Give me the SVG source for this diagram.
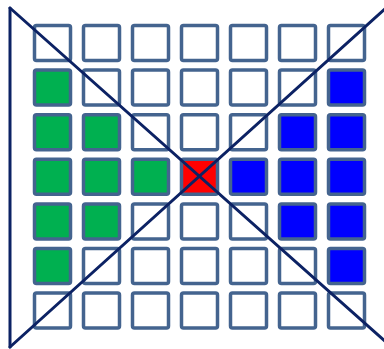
<svg xmlns="http://www.w3.org/2000/svg" width="384" height="349" viewBox="0 0 384 349">
<style>
.c{stroke:#44648F;stroke-width:3.5;fill:#FFFFFF}
.g{fill:#00B050}
.b{fill:#0000FF}
.r{fill:#FF0000}
.ln{stroke:#0C2264;stroke-width:3;fill:none;stroke-linecap:round}
</style>
<defs>
<rect id="sq" width="36" height="35" rx="2"/>
</defs>
<rect width="384" height="349" fill="#FFFFFF"/>
<g id="grid">
<g id="row0">
<use href="#sq" class="c" x="34.5" y="25.5"/><use href="#sq" class="c" x="83.5" y="25.5"/><use href="#sq" class="c" x="132.5" y="25.5"/><use href="#sq" class="c" x="181.5" y="25.5"/><use href="#sq" class="c" x="230.5" y="25.5"/><use href="#sq" class="c" x="279.5" y="25.5"/><use href="#sq" class="c" x="328.5" y="25.5"/>
</g>
<g id="row1">
<use href="#sq" class="c g" x="34.5" y="70.1"/><use href="#sq" class="c" x="83.5" y="70.1"/><use href="#sq" class="c" x="132.5" y="70.1"/><use href="#sq" class="c" x="181.5" y="70.1"/><use href="#sq" class="c" x="230.5" y="70.1"/><use href="#sq" class="c" x="279.5" y="70.1"/><use href="#sq" class="c b" x="328.5" y="70.1"/>
</g>
<g id="row2">
<use href="#sq" class="c g" x="34.5" y="114.7"/><use href="#sq" class="c g" x="83.5" y="114.7"/><use href="#sq" class="c" x="132.5" y="114.7"/><use href="#sq" class="c" x="181.5" y="114.7"/><use href="#sq" class="c" x="230.5" y="114.7"/><use href="#sq" class="c b" x="279.5" y="114.7"/><use href="#sq" class="c b" x="328.5" y="114.7"/>
</g>
<g id="row3">
<use href="#sq" class="c g" x="34.5" y="159.3"/><use href="#sq" class="c g" x="83.5" y="159.3"/><use href="#sq" class="c g" x="132.5" y="159.3"/><use href="#sq" class="c r" x="181.5" y="159.3"/><use href="#sq" class="c b" x="230.5" y="159.3"/><use href="#sq" class="c b" x="279.5" y="159.3"/><use href="#sq" class="c b" x="328.5" y="159.3"/>
</g>
<g id="row4">
<use href="#sq" class="c g" x="34.5" y="203.9"/><use href="#sq" class="c g" x="83.5" y="203.9"/><use href="#sq" class="c" x="132.5" y="203.9"/><use href="#sq" class="c" x="181.5" y="203.9"/><use href="#sq" class="c" x="230.5" y="203.9"/><use href="#sq" class="c b" x="279.5" y="203.9"/><use href="#sq" class="c b" x="328.5" y="203.9"/>
</g>
<g id="row5">
<use href="#sq" class="c g" x="34.5" y="248.5"/><use href="#sq" class="c" x="83.5" y="248.5"/><use href="#sq" class="c" x="132.5" y="248.5"/><use href="#sq" class="c" x="181.5" y="248.5"/><use href="#sq" class="c" x="230.5" y="248.5"/><use href="#sq" class="c" x="279.5" y="248.5"/><use href="#sq" class="c b" x="328.5" y="248.5"/>
</g>
<g id="row6">
<use href="#sq" class="c" x="34.5" y="293.1"/><use href="#sq" class="c" x="83.5" y="293.1"/><use href="#sq" class="c" x="132.5" y="293.1"/><use href="#sq" class="c" x="181.5" y="293.1"/><use href="#sq" class="c" x="230.5" y="293.1"/><use href="#sq" class="c" x="279.5" y="293.1"/><use href="#sq" class="c" x="328.5" y="293.1"/>
</g>
</g>
<g id="lines">
<line class="ln" x1="10" y1="8" x2="10" y2="347"/>
<line class="ln" x1="10" y1="8" x2="386" y2="342"/>
<line class="ln" x1="10" y1="347" x2="386" y2="8"/>
</g>
</svg>
